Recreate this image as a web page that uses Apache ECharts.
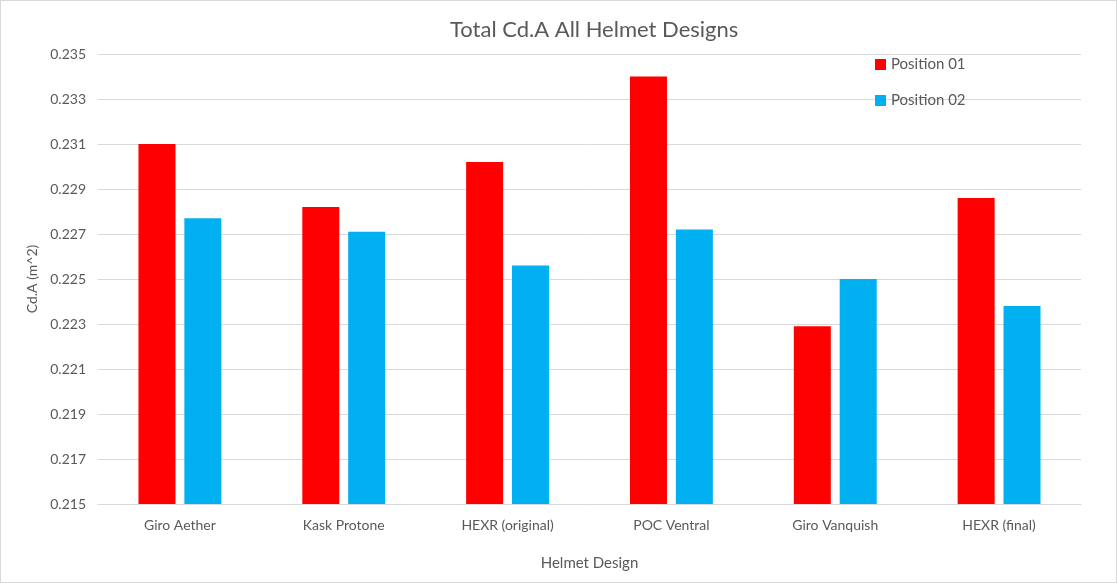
<!DOCTYPE html>
<html>
<head>
<meta charset="utf-8">
<script src="https://cdn.jsdelivr.net/npm/echarts@6/dist/echarts.min.js"></script>
<style>
  html, body { margin: 0; padding: 0; background: #fff; }
  #main { width: 1117px; height: 583px; box-sizing: border-box; border: 1px solid #d9d9d9; }
</style>
</head>
<body>
<div id="main"></div>
<script>
var helmets = ['Giro Aether', 'Kask Protone', 'HEXR (original)', 'POC Ventral', 'Giro Vanquish', 'HEXR (final)'];
var position01 = [0.2310, 0.2282, 0.2302, 0.2340, 0.2229, 0.2286];
var position02 = [0.2277, 0.2271, 0.2256, 0.2272, 0.2250, 0.2238];

var font = 'Lato, "Open Sans", sans-serif';
var grey = '#595959';

var chart = echarts.init(document.getElementById('main'), null, { renderer: 'canvas' });

chart.setOption({
  backgroundColor: '#fff',
  animation: false,
  title: {
    text: 'Total Cd.A All Helmet Designs',
    left: 444,
    top: 13,
    textStyle: { fontFamily: font, fontSize: 22, fontWeight: 'normal', color: grey }
  },
  legend: {
    data: ['Position 01', 'Position 02'],
    orient: 'vertical',
    left: 869,
    top: 51,
    itemWidth: 11,
    itemHeight: 11,
    itemGap: 21,
    icon: 'rect',
    textStyle: { fontFamily: font, fontSize: 15, color: grey }
  },
  grid: {
    left: 97,
    right: 35,
    top: 53,
    bottom: 78
  },
  xAxis: {
    type: 'category',
    data: helmets,
    name: 'Helmet Design',
    nameLocation: 'middle',
    nameGap: 52,
    nameTextStyle: { fontFamily: font, fontSize: 15, color: grey },
    axisLine: { lineStyle: { color: '#d9d9d9' } },
    axisTick: { show: false },
    axisLabel: { fontFamily: font, fontSize: 14, color: grey, margin: 14 }
  },
  yAxis: {
    type: 'value',
    min: 0.215,
    max: 0.235,
    interval: 0.002,
    name: 'Cd.A (m^2)',
    nameLocation: 'middle',
    nameGap: 58,
    nameTextStyle: { fontFamily: font, fontSize: 14, color: grey },
    axisLine: { show: false },
    axisTick: { show: false },
    splitLine: { lineStyle: { color: '#d9d9d9' } },
    axisLabel: {
      fontFamily: font, fontSize: 14, color: grey, margin: 12,
      formatter: function (v) { return v.toFixed(3); }
    }
  },
  series: [
    {
      name: 'Position 01',
      type: 'bar',
      data: position01,
      barWidth: 37,
      barGap: '24%',
      itemStyle: { color: '#ff0000' }
    },
    {
      name: 'Position 02',
      type: 'bar',
      data: position02,
      barWidth: 37,
      itemStyle: { color: '#00b0f0' }
    }
  ]
});
</script>
</body>
</html>
